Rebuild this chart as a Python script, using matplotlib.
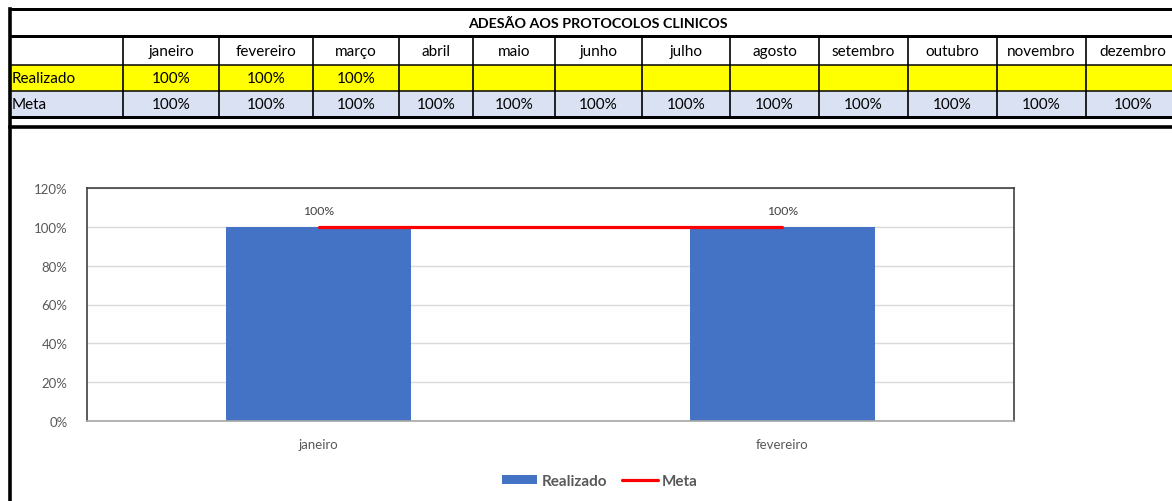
import matplotlib.pyplot as plt
from matplotlib.patches import Rectangle
from matplotlib.lines import Line2D

plt.rcParams['font.family'] = ['Lato', 'DejaVu Sans']

title = "ADESÃO AOS PROTOCOLOS CLINICOS"
months = ["janeiro", "fevereiro", "março", "abril", "maio", "junho", "julho",
          "agosto", "setembro", "outubro", "novembro", "dezembro"]
realizado = [1.0, 1.0, 1.0, None, None, None, None, None, None, None, None, None]
meta = [1.0] * 12

chart_months = ["janeiro", "fevereiro"]
chart_realizado = [1.0, 1.0]
chart_meta = [1.0, 1.0]
yticks = [0, 0.2, 0.4, 0.6, 0.8, 1.0, 1.2]


def pct(v):
    return "" if v is None else f"{v:.0%}"


W, H = 1172, 502
fig = plt.figure(figsize=(W / 100, H / 100), dpi=100)

# table drawn in pixel coordinates
bg = fig.add_axes([0, 0, 1, 1])
bg.set_xlim(0, W)
bg.set_ylim(H, 0)
bg.axis("off")

col_edges = [10, 123, 219, 313, 399, 473, 555, 642, 730, 819, 908, 997, 1086, 1180]
rows = [10, 37, 66, 92, 118]

bg.add_patch(Rectangle((10, rows[2]), W, rows[3] - rows[2], color="#FFFF00", lw=0))
bg.add_patch(Rectangle((10, rows[3]), W, rows[4] - rows[3], color="#D9E1F2", lw=0))

for y in rows:
    lw = 3 if y in (10, 37, 118) else 1.5
    bg.add_line(Line2D([10, W], [y, y], color="black", lw=lw * 0.72))
for x in col_edges[1:-1]:
    bg.add_line(Line2D([x, x], [rows[1], rows[4]], color="black", lw=1.2))
bg.add_line(Line2D([10, 10], [10, H], color="black", lw=2.6))
bg.add_line(Line2D([10, W], [128, 128], color="black", lw=2.6))

bg.text(598, 24, title, ha="center", va="center", fontsize=10.3,
        fontweight="bold")
fs = 11
for i, m in enumerate(months):
    cx = (col_edges[i + 1] + col_edges[i + 2]) / 2
    bg.text(cx, 52, m, ha="center", va="center", fontsize=fs)
    bg.text(cx, 79, pct(realizado[i]), ha="center", va="center", fontsize=fs)
    bg.text(cx, 105, pct(meta[i]), ha="center", va="center", fontsize=fs)
bg.text(12, 79, "Realizado", ha="left", va="center", fontsize=fs)
bg.text(12, 105, "Meta", ha="left", va="center", fontsize=fs)

# chart
ax = fig.add_axes([87 / W, 1 - 422 / H, 927 / W, 233 / H])
x = list(range(len(chart_months)))
bars = ax.bar(x, chart_realizado, width=0.4, color="#4472C4",
              label="Realizado", zorder=2)
line, = ax.plot(x, chart_meta, color="#FF0000", lw=2.3, label="Meta",
                zorder=3, solid_capstyle="round")
for xi, v in zip(x, chart_realizado):
    ax.text(xi, v + 0.085, pct(v), ha="center", va="center", fontsize=8.8,
            color="#404040")
ax.set_xlim(-0.5, len(chart_months) - 0.5)
ax.set_ylim(0, 1.2)
ax.set_yticks(yticks)
ax.set_yticklabels([f"{t:.0%}" for t in yticks], fontsize=9.5,
                   color="#595959")
ax.set_xticks(x)
ax.set_xticklabels(chart_months, fontsize=9.5, color="#595959")
ax.tick_params(length=0, pad=12)
ax.tick_params(axis="y", pad=14)
ax.grid(axis="y", color="#D9D9D9", lw=1, zorder=0)
for s in ("left", "top", "right"):
    ax.spines[s].set_color("#404040")
    ax.spines[s].set_linewidth(1.2)
ax.spines["bottom"].set_color("#A6A6A6")
ax.spines["bottom"].set_linewidth(1.2)

leg = fig.legend([bars, line], ["Realizado", "Meta"], loc="center",
                 bbox_to_anchor=(600 / W, 1 - 482 / H), ncol=2,
                 frameon=False, handlelength=2.3, handleheight=0.5,
                 columnspacing=1.0, handletextpad=0.3,
                 prop={"weight": "bold", "size": 11})
for t in leg.get_texts():
    t.set_color("#595959")

fig.savefig("out.png", dpi=100)
